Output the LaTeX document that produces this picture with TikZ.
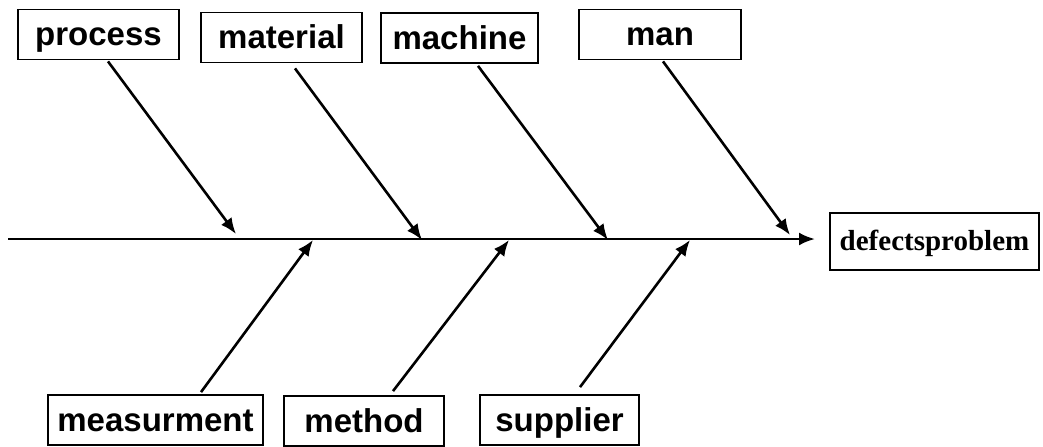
\documentclass[tikz,border=0pt]{standalone}
\usepackage{fontspec}
\setmainfont{Liberation Serif}
\setsansfont{Liberation Sans}
\usetikzlibrary{arrows.meta}

\begin{document}
\begin{tikzpicture}[x=0.5pt, y=-0.5pt,
    cause/.style={draw, line width=0.9pt, inner sep=0pt, minimum height=25pt,
        text height=11pt, text depth=0pt,
        font=\sffamily\bfseries\fontsize{16.5}{18}\selectfont},
    effect/.style={draw, line width=0.9pt, inner sep=0pt, minimum width=104.5pt,
        minimum height=28.5pt, text height=9pt, text depth=0pt,
        font=\bfseries\fontsize{14.5}{16}\selectfont},
    bone/.style={line width=1.3pt, -{Latex[length=8pt,width=6.5pt]}}]
    \useasboundingbox (0,0) rectangle (1043,446);
    % boxes
    \node[cause, minimum width=80.5pt] (process) at (98.5,34.5) {process};
    \node[cause, minimum width=80.5pt] (material) at (281.5,37.5) {material};
    \node[cause, minimum width=78.5pt] (machine) at (459.5,38) {machine};
    \node[cause, minimum width=81pt] (man) at (660,34.5) {man};
    \node[cause, minimum width=107.5pt] (measurment) at (155.5,420) {measurment};
    \node[cause, minimum width=80pt] (method) at (364,421) {method};
    \node[cause, minimum width=79.5pt] (supplier) at (559.5,420) {supplier};
    \node[effect] (problem) at (934.5,241.5) {defectsproblem};
    % spine
    \coordinate (tail) at (8,239);
    \coordinate (head) at (815,239);
    \coordinate (hp) at (236,234);
    \coordinate (hmat) at (422,240);
    \coordinate (hmac) at (608,240);
    \coordinate (hman) at (790,235);
    \coordinate (hmea) at (313,240);
    \coordinate (hmet) at (509,240);
    \coordinate (hsup) at (690,240);
    \draw[bone] (tail) -- (head);
    % bones
    \draw[bone] ([shift={(9.5,1)}]process.south) -- (hp);
    \draw[bone] ([shift={(13.5,5)}]material.south) -- (hmat);
    \draw[bone] ([shift={(18.5,2)}]machine.south) -- (hmac);
    \draw[bone] ([shift={(3,1)}]man.south) -- (hman);
    \draw[bone] ([shift={(45.5,-2)}]measurment.north) -- (hmea);
    \draw[bone] ([shift={(29,-4)}]method.north) -- (hmet);
    \draw[bone] ([shift={(20.5,-7)}]supplier.north) -- (hsup);
\end{tikzpicture}
\end{document}
